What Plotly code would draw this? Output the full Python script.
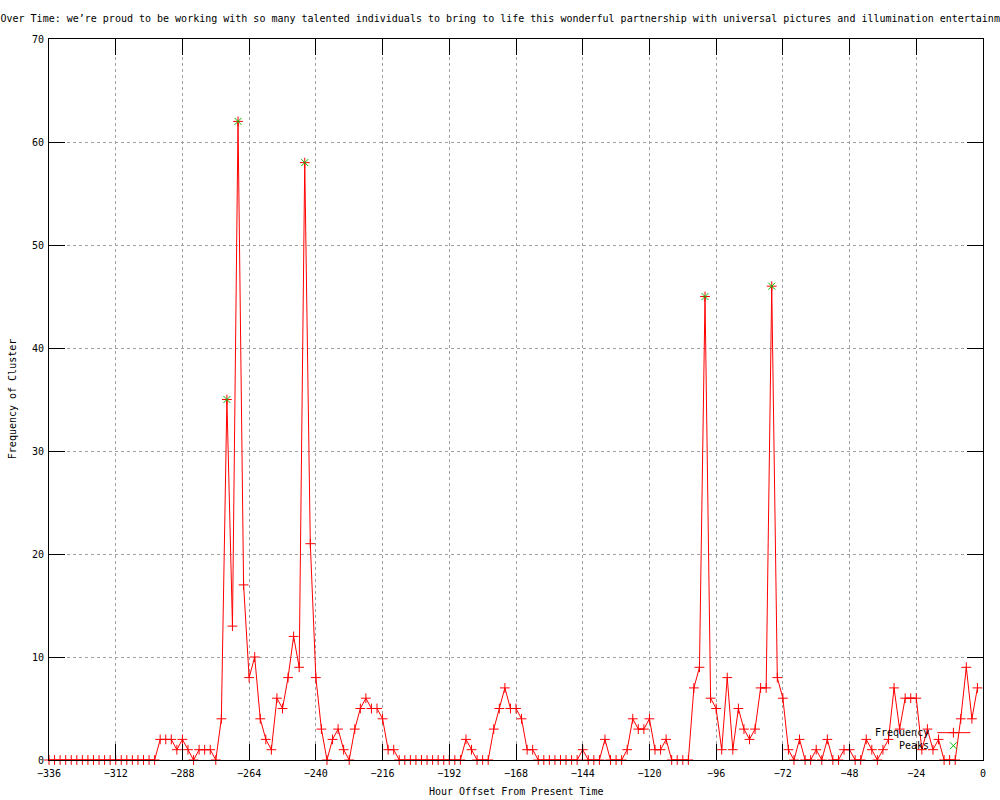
import plotly.graph_objects as go

# Hour offsets (x categories)
hours = [
    -336, -334, -332, -330, -328, -326, -324, -322, -320, -318, -316, -314,
    -312, -310, -308, -306, -304, -302, -300, -298, -296, -294, -292, -290,
    -288, -286, -284, -282, -280, -278, -276, -274, -272, -270, -268, -266,
    -264, -262, -260, -258, -256, -254, -252, -250, -248, -246, -244, -242,
    -240, -238, -236, -234, -232, -230, -228, -226, -224, -222, -220, -218,
    -216, -214, -212, -210, -208, -206, -204, -202, -200, -198, -196, -194,
    -192, -190, -188, -186, -184, -182, -180, -178, -176, -174, -172, -170,
    -168, -166, -164, -162, -160, -158, -156, -154, -152, -150, -148, -146,
    -144, -142, -140, -138, -136, -134, -132, -130, -128, -126, -124, -122,
    -120, -118, -116, -114, -112, -110, -108, -106, -104, -102, -100, -98,
    -96, -94, -92, -90, -88, -86, -84, -82, -80, -78, -76, -74,
    -72, -70, -68, -66, -64, -62, -60, -58, -56, -54, -52, -50,
    -48, -46, -44, -42, -40, -38, -36, -34, -32, -30, -28, -26,
    -24, -22, -20, -18, -16, -14, -12, -10, -8, -6, -4, -2,
]

# Frequency of cluster
frequency = [
    0, 0, 0, 0, 0, 0, 0, 0, 0, 0, 0, 0,
    0, 0, 0, 0, 0, 0, 0, 0, 2, 2, 2, 1,
    2, 1, 0, 1, 1, 1, 0, 4, 35, 13, 62, 17,
    8, 10, 4, 2, 1, 6, 5, 8, 12, 9, 58, 21,
    8, 3, 0, 2, 3, 1, 0, 3, 5, 6, 5, 5,
    4, 1, 1, 0, 0, 0, 0, 0, 0, 0, 0, 0,
    0, 0, 0, 2, 1, 0, 0, 0, 3, 5, 7, 5,
    5, 4, 1, 1, 0, 0, 0, 0, 0, 0, 0, 0,
    1, 0, 0, 0, 2, 0, 0, 0, 1, 4, 3, 3,
    4, 1, 1, 2, 0, 0, 0, 0, 7, 9, 45, 6,
    5, 1, 8, 1, 5, 3, 2, 3, 7, 7, 46, 8,
    6, 1, 0, 2, 0, 0, 1, 0, 2, 0, 0, 1,
    1, 0, 0, 2, 1, 0, 1, 2, 7, 3, 6, 6,
    6, 1, 3, 1, 2, 0, 0, 0, 4, 9, 4, 7,
]

# Detected peaks
peak_hours = [-272, -268, -244, -100, -76]
peak_values = [35, 62, 58, 45, 46]

# Title as visible in the reference (it runs off the right edge there)
title_text = ("Over Time: we\u2019re proud to be working with so many talented individuals "
              "to bring to life this wonderful partnership with universal pictures and "
              "illumination entertainm")
x_title = "Hour Offset From Present Time"
y_title = "Frequency of Cluster"
legend_names = ["Frequency", "Peaks"]

RED = "#ff0000"
GREEN = "#00c000"
FONT = "DejaVu Sans Mono"

fig = go.Figure()
fig.add_trace(go.Scatter(
    x=hours, y=frequency, mode="lines+markers", name=legend_names[0],
    line=dict(color=RED, width=1),
    marker=dict(symbol="cross-thin-open", size=7, color=RED, line=dict(color=RED, width=1)),
    showlegend=False, cliponaxis=False,
))
fig.add_trace(go.Scatter(
    x=peak_hours, y=peak_values, mode="markers", name=legend_names[1],
    marker=dict(symbol="x-thin-open", size=7, color=GREEN, line=dict(color=GREEN, width=1)),
    showlegend=False, cliponaxis=False,
))

# Legend samples drawn on a hidden overlay axis (gnuplot-style key: text then sample)
fig.add_trace(go.Scatter(
    x=[0.9511, 0.9865], y=[0.0379, 0.0379], xaxis="x2", yaxis="y2", mode="lines",
    line=dict(color=RED, width=1), showlegend=False, hoverinfo="skip",
))
fig.add_trace(go.Scatter(
    x=[0.9683], y=[0.0379], xaxis="x2", yaxis="y2", mode="markers",
    marker=dict(symbol="cross-thin-open", size=7, color=RED, line=dict(color=RED, width=1)),
    showlegend=False, hoverinfo="skip",
))
fig.add_trace(go.Scatter(
    x=[0.9683], y=[0.0198], xaxis="x2", yaxis="y2", mode="markers",
    marker=dict(symbol="x-thin-open", size=7, color=GREEN, line=dict(color=GREEN, width=1)),
    showlegend=False, hoverinfo="skip",
))

axis_common = dict(
    showline=True, linecolor="black", linewidth=1, mirror="ticks",
    ticks="inside", ticklen=16, tickcolor="black", tickwidth=1,
    showgrid=True, gridcolor="#a0a0a0", griddash="dot", gridwidth=1,
    zeroline=False, tickfont=dict(family=FONT, size=10, color="black"),
)

fig.update_layout(
    width=1000, height=800,
    margin=dict(l=49, r=17, t=39, b=40),
    paper_bgcolor="white", plot_bgcolor="white",
    font=dict(family=FONT, size=10, color="black"),
    title=dict(text=title_text, x=0.0005, xanchor="left", xref="container",
               y=1 - 18 / 800, yanchor="middle", yref="container",
               font=dict(family=FONT, size=10, color="black")),
    xaxis=dict(range=[-336, 0], tick0=0, dtick=24, ticklabelstandoff=4, **axis_common),
    yaxis=dict(range=[0, 70], tick0=0, dtick=10, ticklabelstandoff=2, **axis_common),
    xaxis2=dict(range=[0, 1], overlaying="x", visible=False, fixedrange=True),
    yaxis2=dict(range=[0, 1], overlaying="y", visible=False, fixedrange=True),
    showlegend=False,
    annotations=[
        dict(text=x_title, xref="paper", yref="paper", x=0.5, y=-(792 - 760.3) / 721,
             xanchor="center", yanchor="middle", showarrow=False,
             font=dict(family=FONT, size=10, color="black")),
        dict(text=y_title, xref="paper", yref="paper", x=(13 - 49.3) / 933.3, y=0.5,
             xanchor="center", yanchor="middle", textangle=-90, showarrow=False,
             font=dict(family=FONT, size=10, color="black")),
        dict(text=legend_names[0], xref="paper", yref="paper", x=(931 - 49.3) / 933.3,
             y=0.0379, xanchor="right", yanchor="middle", showarrow=False,
             font=dict(family=FONT, size=10, color="black")),
        dict(text=legend_names[1], xref="paper", yref="paper", x=(931 - 49.3) / 933.3,
             y=0.0198, xanchor="right", yanchor="middle", showarrow=False,
             font=dict(family=FONT, size=10, color="black")),
    ],
)

fig.write_html("out.html", config={"displayModeBar": False},
               post_script="document.body.style.margin='0';")
